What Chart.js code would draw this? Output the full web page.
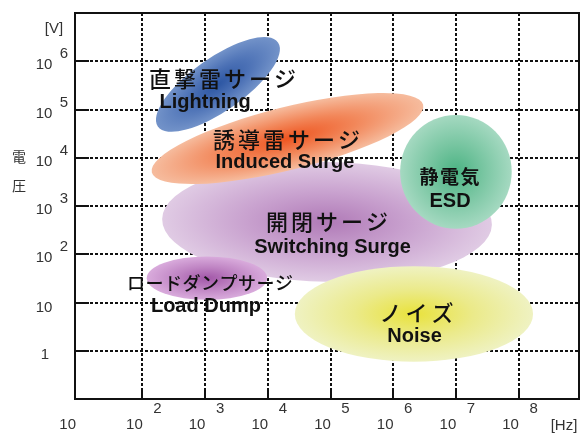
<!DOCTYPE html>
<html>
<head>
<meta charset="utf-8">
<script src="https://cdn.jsdelivr.net/npm/chart.js@4.4.1/dist/chart.umd.min.js"></script>
<style>
  html, body { margin: 0; padding: 0; background: #fff; }
  #wrap { width: 584px; height: 437px; }
</style>
</head>
<body>
<div id="wrap"><canvas id="surgeChart"></canvas></div>
<script>
// Regions (draw order: back to front)
const namesJa = ['開閉サージ', 'ロードダンプサージ', 'ノイズ', '誘導雷サージ', '直撃雷サージ', '静電気'];
const namesEn = ['Switching Surge', 'Load Dump', 'Noise', 'Induced Surge', 'Lightning', 'ESD'];
const centerHz = [88000, 1070, 2140000, 20600, 1600, 10000000];
const centerV = [470, 32, 5.8, 25000, 330000, 5100];
const halfDecadesX = [2.63, 0.96, 1.90, 2.23, 1.17, 0.89];   // semi-axis along the region's long side
const halfDecadesY = [1.24, 0.45, 0.99, 0.65, 0.55, 1.18];   // semi-axis across it
const tiltDeg = [1, 0, 0, -14, -35, 0];

// label anchors (data coordinates)
const jaAtHz = [88000, 1200, 2350000, 19900, 1900, 7900000];
const jaAtV = [470, 25.6, 6.1, 23400, 428000, 4000];
const enAtHz = [108000, 1030, 2190000, 18800, 1000, 8050000];
const enAtV = [136, 8.15, 1.95, 7800, 143000, 1216];

// axes
const xTickExp = [1, 2, 3, 4, 5, 6, 7, 8];
const yTickExp = [0, 1, 2, 3, 4, 5, 6];
const xGridExp = [2, 3, 4, 5, 6, 7, 8];
const yGridExp = [0, 1, 2, 3, 4, 5, 6];

const regionColors = [
    ['#b07ab7', '#c9a2cf', '#e0cbe4'],
    ['#a257a8', '#bf84c3', '#d9abdc'],
    ['#e9e23c', '#ebea8a', '#eff2c2'],
    ['#ee5520', '#f2875a', '#f6bc9e'],
    ['#2c56a3', '#4d72b6', '#7393c9'],
    ['#4bb383', '#79c6a2', '#a5d9c1']
];
const jaFonts = ['500 22px "Noto Sans CJK JP"', '500 18px "Noto Sans CJK JP"', '500 22px "Noto Sans CJK JP"',
    '500 22px "Noto Sans CJK JP"', '500 22px "Noto Sans CJK JP"', 'bold 19px "Noto Sans CJK JP"'];
const jaSpacing = [3, 0.5, 4, 3, 3, 1.5];

const regionPlugin = {
    id: 'regions',
    afterDatasetsDraw(chart) {
        const { ctx, scales: { x, y } } = chart;
        const meta = chart.getDatasetMeta(0);
        meta.data.forEach((el, i) => {
            const lx = Math.log10(centerHz[i]);
            const ly = Math.log10(centerV[i]);
            const rx = x.getPixelForValue(10 ** (lx + halfDecadesX[i])) - el.x;
            const ry = el.y - y.getPixelForValue(10 ** (ly + halfDecadesY[i]));
            ctx.save();
            ctx.translate(el.x, el.y);
            ctx.rotate(tiltDeg[i] * Math.PI / 180);
            ctx.scale(1, ry / rx);
            const g = ctx.createRadialGradient(0, 0, 0, 0, 0, rx);
            g.addColorStop(0, regionColors[i][0]);
            g.addColorStop(0.5, regionColors[i][1]);
            g.addColorStop(1, regionColors[i][2]);
            ctx.fillStyle = g;
            ctx.beginPath();
            ctx.arc(0, 0, rx, 0, Math.PI * 2);
            ctx.fill();
            ctx.restore();
        });

        // region labels
        ctx.save();
        ctx.fillStyle = '#111';
        ctx.textAlign = 'center';
        ctx.textBaseline = 'middle';
        namesJa.forEach((name, i) => {
            ctx.font = jaFonts[i];
            ctx.letterSpacing = jaSpacing[i] + 'px';
            ctx.fillText(name, x.getPixelForValue(jaAtHz[i]) + jaSpacing[i] / 2, y.getPixelForValue(jaAtV[i]));
            ctx.letterSpacing = '0px';
            ctx.font = 'bold 20px "Liberation Sans", Arial, sans-serif';
            ctx.fillText(namesEn[i], x.getPixelForValue(enAtHz[i]), y.getPixelForValue(enAtV[i]));
        });
        ctx.restore();
    },
    afterDraw(chart) {
        const { ctx, chartArea: a, scales: { x, y } } = chart;
        ctx.save();
        ctx.strokeStyle = '#111';
        ctx.lineWidth = 2;
        ctx.strokeRect(a.left, a.top, a.right - a.left, a.bottom - a.top);

        // inner tick marks
        ctx.beginPath();
        yGridExp.forEach(e => {
            const py = Math.round(y.getPixelForValue(10 ** e));
            ctx.moveTo(a.left, py);
            ctx.lineTo(a.left + 14, py);
        });
        xGridExp.forEach(e => {
            const px = Math.round(x.getPixelForValue(10 ** e));
            ctx.moveTo(px, a.bottom);
            ctx.lineTo(px, a.bottom - 10);
        });
        ctx.stroke();

        // tick labels
        ctx.fillStyle = '#333';
        ctx.font = '15px "Liberation Sans", Arial, sans-serif';
        ctx.textBaseline = 'middle';
        ctx.textAlign = 'center';
        xTickExp.forEach(e => {
            const px = x.getPixelForValue(10 ** e);
            if (e === 1) {
                ctx.fillText('10', px - 12, 425);
            } else {
                ctx.fillText('10', px - 8, 425);
                ctx.fillText(String(e), px + 15, 409);
            }
        });
        yTickExp.forEach(e => {
            const py = y.getPixelForValue(10 ** e);
            if (e === 0) {
                ctx.fillText('1', 45, py + 4);
            } else if (e === 1) {
                ctx.fillText('10', 44, py + 5);
            } else {
                ctx.fillText('10', 44, py + 4);
                ctx.fillText(String(e), 64, py - 7);
            }
        });
        ctx.fillText('[V]', 54, 29);
        ctx.fillText('[Hz]', 564, 426);
        ctx.font = '14px "Noto Sans CJK JP"';
        ctx.fillText('電', 19, 157);
        ctx.fillText('圧', 19, 186);
        ctx.restore();
    }
};

document.addEventListener('DOMContentLoaded', () => {
    const ctx = document.getElementById('surgeChart').getContext('2d');

    new Chart(ctx, {
        type: 'scatter',
        data: {
            datasets: [{
                data: centerHz.map((hz, i) => ({ x: hz, y: centerV[i] })),
                pointRadius: 0,
                pointHoverRadius: 0
            }]
        },
        options: {
            responsive: true,
            maintainAspectRatio: false,
            animation: false,
            events: [],
            layout: { padding: { left: 75, top: 13, right: 5, bottom: 38 } },
            plugins: {
                legend: { display: false },
                tooltip: { enabled: false }
            },
            scales: {
                x: {
                    type: 'logarithmic',
                    min: 10 ** 0.925,
                    max: 10 ** 8.963,
                    afterBuildTicks: axis => { axis.ticks = xGridExp.map(e => ({ value: 10 ** e })); },
                    ticks: { display: false },
                    grid: { color: '#111', lineWidth: 2, drawTicks: false },
                    border: { display: false, dash: [3, 2] }
                },
                y: {
                    type: 'logarithmic',
                    min: 0.1,
                    max: 1e7,
                    afterBuildTicks: axis => { axis.ticks = yGridExp.map(e => ({ value: 10 ** e })); },
                    ticks: { display: false },
                    grid: { color: '#111', lineWidth: 2, drawTicks: false },
                    border: { display: false, dash: [3, 2] }
                }
            }
        },
        plugins: [regionPlugin]
    });
});
</script>
</body>
</html>
